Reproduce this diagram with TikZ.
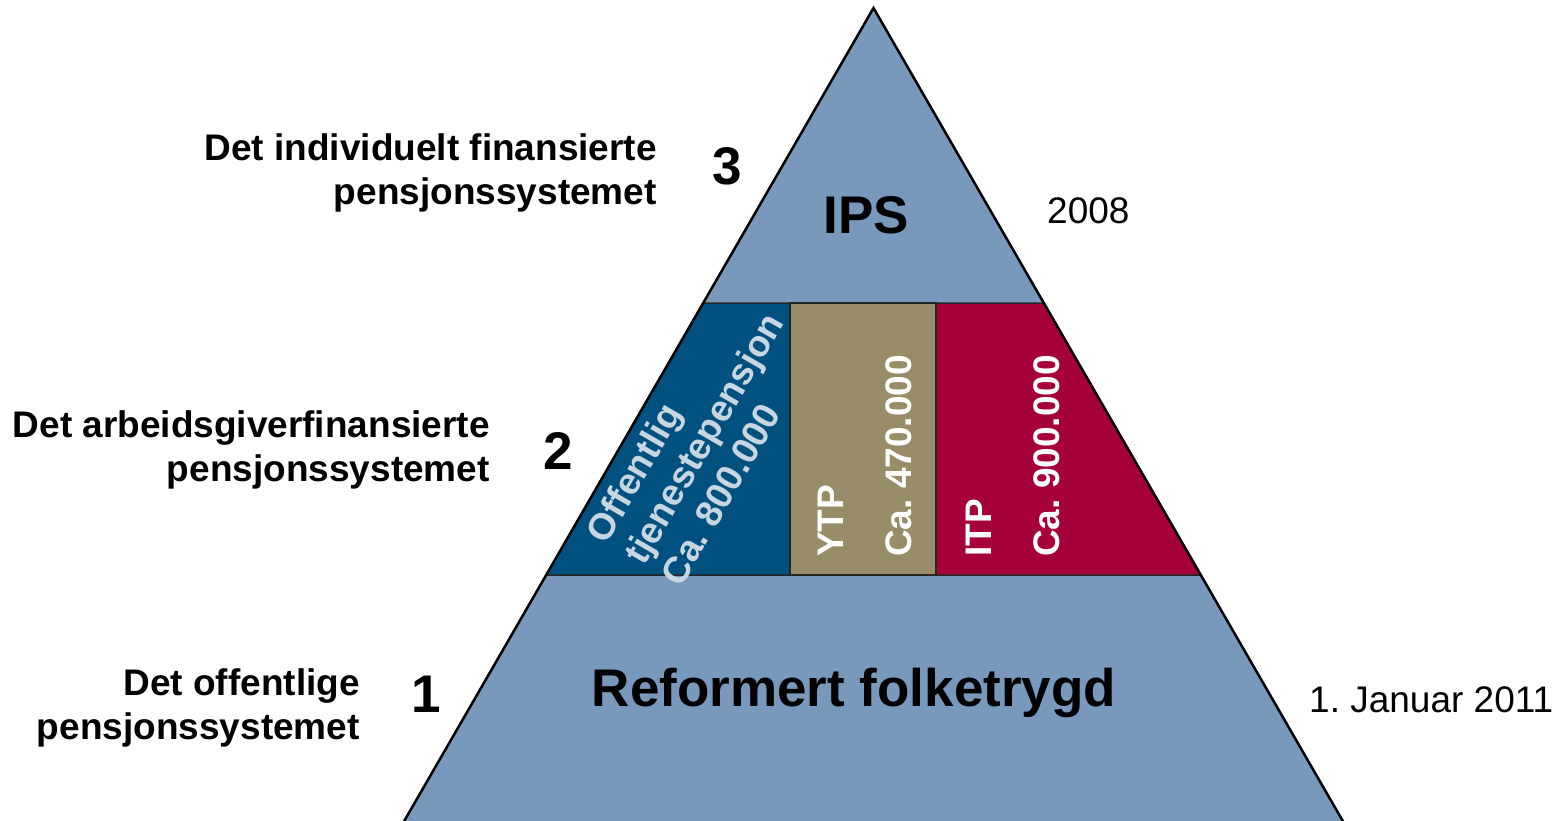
\documentclass[tikz,border=0pt]{standalone}
\usepackage{fontspec}
\setmainfont{Liberation Sans}
\definecolor{pyrcol}{RGB}{120,153,188}
\definecolor{otpcol}{RGB}{0,81,128}
\definecolor{ytpcol}{RGB}{152,141,104}
\definecolor{itpcol}{RGB}{165,0,58}
\definecolor{paletxt}{RGB}{200,214,226}
\newcommand\rtwo[2]{\vtop{\halign{\hfil##\cr#1\cr#2\cr}}}
\newcommand\ltwo[2]{\vtop{\halign{##\hfil\cr#1\cr#2\cr}}}
\newcommand\lthree[3]{\vtop{\halign{##\hfil\cr#1\cr#2\cr#3\cr}}}
\frenchspacing
\begin{document}
\frenchspacing
\begin{tikzpicture}[x=1bp,y=-1bp,
  lbl/.style={font=\bfseries\fontsize{37bp}{44bp}\selectfont, inner sep=0pt, anchor=base east},
  num/.style={font=\bfseries\fontsize{53bp}{60bp}\selectfont, inner sep=0pt, anchor=base},
  big/.style={font=\bfseries\fontsize{53bp}{60bp}\selectfont, inner sep=0pt, anchor=base},
  yr/.style={font=\fontsize{37bp}{40bp}\selectfont, inner sep=0pt, anchor=base west},
  vert/.style={font=\bfseries\fontsize{37bp}{68bp}\selectfont, text=white, inner sep=0pt, rotate=90, anchor=base west},
  slant/.style={font=\bfseries\fontsize{37bp}{43bp}\selectfont, text=paletxt, inner sep=0pt, rotate=60, anchor=center},
  band/.style={draw=black!85, line width=1.5bp, line join=miter},
]
\useasboundingbox (0,0) rectangle (1555,820);
\begin{scope}
\clip (0,0) rectangle (1555,820);
% pyramid body
\fill[pyrcol] (873.5,8) -- (1348,830) -- (399,830) -- cycle;
% middle band
\filldraw[band, fill=otpcol] (703.3,303) -- (790,303) -- (790,575) -- (546.3,575) -- cycle;
\filldraw[band, fill=ytpcol] (790,303) -- (936,303) -- (936,575) -- (790,575) -- cycle;
\filldraw[band, fill=itpcol] (936,303) -- (1043.7,303) -- (1200.7,575) -- (936,575) -- cycle;
% pyramid outline
\draw[line width=2.5bp, line join=miter] (399,830) -- (873.5,8) -- (1348,830);
\end{scope}

% band texts
\node[slant] (otp) at (703,438) {\lthree{Offentlig}{tjenestepensjon}{Ca. 800.000}};
\node[vert] (ytp) at (843,557) {\ltwo{YTP}{Ca. 470.000}};
\node[vert] (itp) at (991,557) {\ltwo{ITP}{Ca. 900.000}};

% level titles
\node[big] (ips) at (866,233) {IPS};
\node[big] (folk) at (854,706) {Reformert folketrygd};

% years
\node[yr] (y2008) at (1047,223) {2008};
\node[yr] (y2011) at (1309,712) {1. Januar 2011};

% left labels
\node[lbl] (l3) at (657,160) {\rtwo{Det individuelt finansierte}{pensjonssystemet}};
\node[lbl] (l2) at (490,437) {\rtwo{Det arbeidsgiverfinansierte}{pensjonssystemet}};
\node[lbl] (l1) at (360,695) {\rtwo{Det offentlige}{pensjonssystemet}};

% numbers
\node[num] (n3) at (727,184) {3};
\node[num] (n2) at (558,469) {2};
\node[num] (n1) at (426,712) {1};
\end{tikzpicture}
\end{document}
